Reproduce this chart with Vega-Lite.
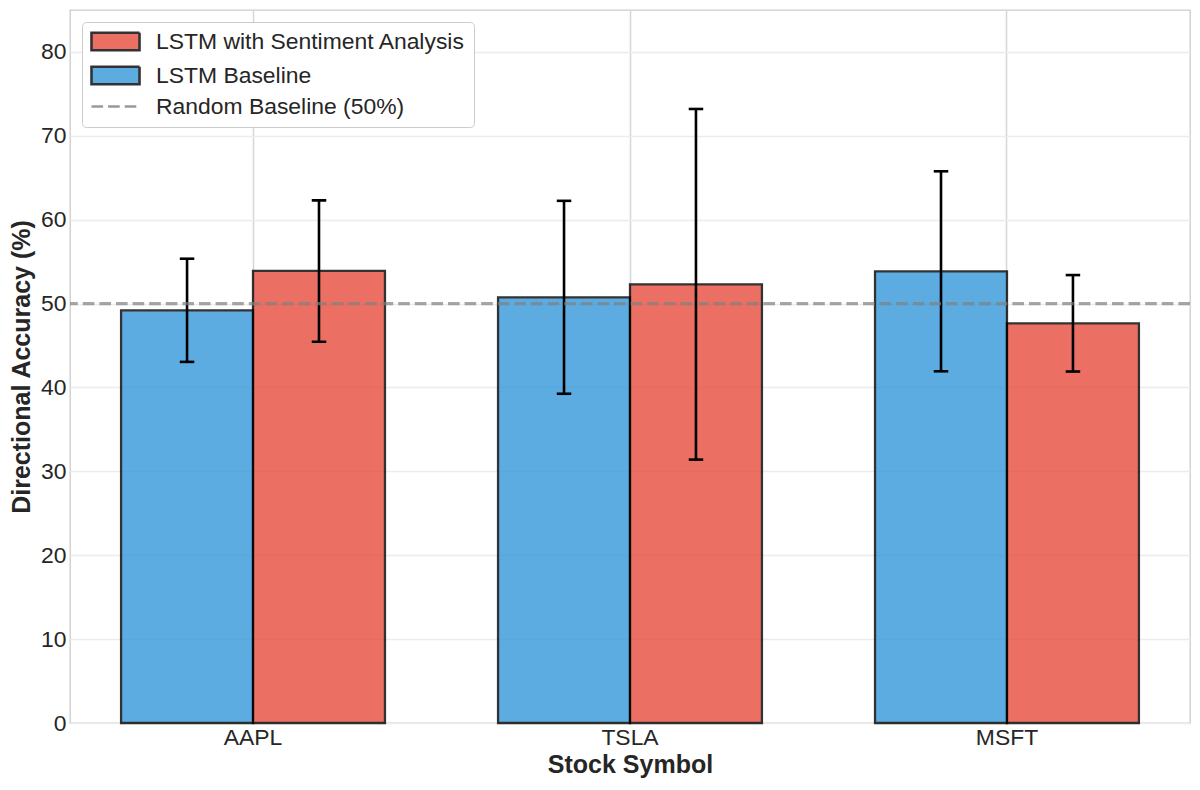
{
  "$schema": "https://vega.github.io/schema/vega-lite/v6.json",
  "width": 1120,
  "height": 713,
  "autosize": {"type": "none"},
  "padding": {"left": 70, "top": 10, "right": 10, "bottom": 67},
  "background": "white",
  "config": {
    "font": "Liberation Sans",
    "view": {"stroke": "#cccccc", "strokeWidth": 1.3},
    "axis": {
      "labelFont": "Liberation Sans",
      "titleFont": "Liberation Sans",
      "labelFontSize": 22.9,
      "titleFontSize": 25,
      "titleFontWeight": "bold",
      "labelColor": "#262626",
      "titleColor": "#262626",
      "ticks": false,
      "domain": false
    },
    "legend": {
      "labelFont": "Liberation Sans",
      "orient": "top-left",
      "offset": 12,
      "fillColor": "white",
      "strokeColor": "#cccccc",
      "cornerRadius": 4,
      "padding": 8,
      "symbolSize": 400,
      "symbolStrokeWidth": 2.6,
      "labelFontSize": 22.9,
      "labelColor": "#262626",
      "labelOffset": 43,
      "labelLimit": 600,
      "rowPadding": 5
    }
  },
  "data": {
    "values": [
      {"symbol": "AAPL", "model": "LSTM Baseline", "acc": 49.2, "lo": 43.05, "hi": 55.35},
      {"symbol": "AAPL", "model": "LSTM with Sentiment Analysis", "acc": 53.9, "lo": 45.45, "hi": 62.3},
      {"symbol": "TSLA", "model": "LSTM Baseline", "acc": 50.75, "lo": 39.25, "hi": 62.25},
      {"symbol": "TSLA", "model": "LSTM with Sentiment Analysis", "acc": 52.3, "lo": 31.4, "hi": 73.2},
      {"symbol": "MSFT", "model": "LSTM Baseline", "acc": 53.85, "lo": 41.93, "hi": 65.77},
      {"symbol": "MSFT", "model": "LSTM with Sentiment Analysis", "acc": 47.65, "lo": 41.9, "hi": 53.4}
    ]
  },
  "encoding": {
    "x": {
      "field": "symbol",
      "type": "nominal",
      "sort": ["AAPL", "TSLA", "MSFT"],
      "scale": {"paddingInner": 0.3, "paddingOuter": 0.1355},
      "axis": {
        "title": "Stock Symbol",
        "labelAngle": 0,
        "labelPadding": 3,
        "titlePadding": 4,
        "grid": true,
        "gridColor": "#d6d6d6",
        "gridWidth": 1.5,
        "bandPosition": 0.5
      }
    },
    "xOffset": {
      "field": "model",
      "type": "nominal",
      "sort": ["LSTM Baseline", "LSTM with Sentiment Analysis"],
      "scale": {"paddingInner": 0, "paddingOuter": 0}
    }
  },
  "layer": [
    {
      "mark": {"type": "bar", "opacity": 0.8, "strokeWidth": 2.3},
      "encoding": {
        "y": {
          "field": "acc",
          "type": "quantitative",
          "scale": {"domain": [0, 85], "nice": false, "zero": true},
          "axis": {
            "title": "Directional Accuracy (%)",
            "values": [0, 10, 20, 30, 40, 50, 60, 70, 80],
            "labelPadding": 4,
            "titlePadding": 6,
            "grid": true,
            "gridColor": "#ececec",
            "gridWidth": 1.5
          }
        },
        "color": {
          "field": "model",
          "type": "nominal",
          "scale": {
            "domain": ["LSTM with Sentiment Analysis", "LSTM Baseline", "Random Baseline (50%)"],
            "range": ["#e74c3c", "#3498db", "#808080"]
          },
          "legend": {"title": null}
        },
        "stroke": {
          "field": "model",
          "type": "nominal",
          "scale": {
            "domain": ["LSTM with Sentiment Analysis", "LSTM Baseline", "Random Baseline (50%)"],
            "range": ["#000000", "#000000", "#808080"]
          },
          "legend": {"title": null}
        },
        "strokeDash": {
          "field": "model",
          "type": "nominal",
          "scale": {
            "domain": ["LSTM with Sentiment Analysis", "LSTM Baseline", "Random Baseline (50%)"],
            "range": [[1, 0], [1, 0], [11.6, 5]]
          },
          "legend": {"title": null}
        }
      }
    },
    {
      "mark": {"type": "point", "opacity": 0, "filled": true},
      "encoding": {
        "y": {"field": "acc", "type": "quantitative"},
        "shape": {
          "field": "model",
          "type": "nominal",
          "scale": {
            "domain": ["LSTM with Sentiment Analysis", "LSTM Baseline", "Random Baseline (50%)"],
            "range": ["M-1,-0.88L3.8,-0.88L3.8,0.88L-1,0.88Z", "M-1,-0.88L3.8,-0.88L3.8,0.88L-1,0.88Z", "M-1,0L3.8,0"]
          },
          "legend": {"title": null}
        }
      }
    },
    {
      "mark": {"type": "rule", "color": "#000000", "strokeWidth": 2.6},
      "encoding": {
        "y": {"field": "lo", "type": "quantitative"},
        "y2": {"field": "hi"}
      }
    },
    {
      "mark": {"type": "tick", "color": "#000000", "size": 14.5, "thickness": 2.6, "opacity": 1},
      "encoding": {
        "y": {"field": "lo", "type": "quantitative"}
      }
    },
    {
      "mark": {"type": "tick", "color": "#000000", "size": 14.5, "thickness": 2.6, "opacity": 1},
      "encoding": {
        "y": {"field": "hi", "type": "quantitative"}
      }
    },
    {
      "data": {"values": [{"baseline": 50}]},
      "mark": {"type": "rule", "color": "#808080", "opacity": 0.7, "strokeWidth": 3.1, "strokeDash": [11.6, 5]},
      "encoding": {
        "x": null,
        "xOffset": null,
        "y": {"field": "baseline", "type": "quantitative"}
      }
    }
  ]
}
